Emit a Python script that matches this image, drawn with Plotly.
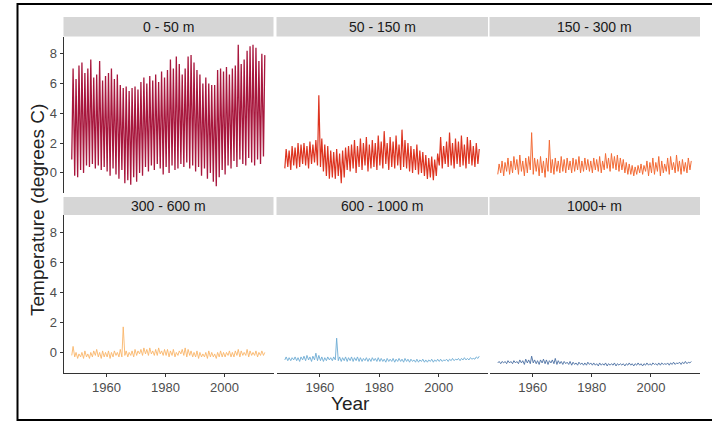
import plotly.graph_objects as go

W, H = 712, 422

# ---------------- data ----------------
years = list(range(1948, 2014))
panels = ["0 - 50 m", "50 - 150 m", "150 - 300 m", "300 - 600 m", "600 - 1000 m", "1000+ m"]
colors = ["#a8173d", "#dd3420", "#f26b36", "#f9b56a", "#6dacd4", "#4b6fa3"]

# 0 - 50 m : yearly summer peaks and winter troughs
hi1 = [7.0, 6.3,
       7.2, 7.4, 6.7, 7.0, 7.6, 6.4, 6.6, 7.5, 6.2, 6.5,
       6.7, 7.0, 6.3, 6.6, 5.9, 5.7, 5.8, 5.5, 5.7, 5.8,
       5.6, 6.1, 6.4, 6.0, 6.5, 6.2, 6.6, 6.1, 6.8, 6.4,
       6.9, 7.6, 7.0, 7.8, 7.3, 6.6, 7.0, 7.8, 7.9, 7.4,
       6.9, 6.6, 6.0, 6.4, 6.0, 5.9, 5.9, 6.9, 7.0, 6.8,
       7.1, 6.6, 7.0, 7.2, 8.6, 7.3, 7.6, 8.2, 8.5, 8.6,
       8.4, 7.5, 8.0, 7.9]
lo1 = [0.9, -0.2,
       -0.3, 0.2, 0.0, 0.5, 0.4, 0.6, 0.3, 0.5, 0.2, 0.4,
       0.1, -0.2, 0.3, -0.1, -0.4, 0.2, -0.7, -0.5, -0.8, -0.3,
       -0.6, 0.0, -0.2, 0.4, 0.1, 0.5, 0.2, 0.6, 0.3, -0.1,
       0.4, 0.0, 0.5, 0.2, 0.3, 0.6, 0.4, 0.7, 0.3, 0.5,
       0.1, 0.4, -0.2, 0.3, -0.4, 0.0, -0.6, -0.9, -0.3, 0.2,
       -0.1, 0.5, 0.3, 0.8, 0.4, 0.9, 0.6, 0.5, 1.0, 0.7,
       0.5, 0.9, 0.6, 1.1]

# 50 - 150 m
hi2 = [1.6, 1.5,
       1.8, 1.7, 2.0, 1.9, 2.0, 1.8, 2.1, 1.9, 2.2, 5.2,
       2.3, 1.9, 1.8, 1.5, 1.4, 1.6, 1.3, 1.5, 1.7, 1.8,
       1.9, 2.2, 1.8, 2.3, 2.0, 2.4, 1.9, 2.2, 2.0, 2.5,
       2.1, 2.8, 2.0, 2.4, 2.1, 2.5, 1.9, 2.9, 2.2, 2.0,
       1.8, 1.6, 1.9, 1.5, 1.4, 1.2, 1.0, 1.1, 0.9, 1.3,
       2.4, 1.8, 2.1, 2.7, 2.0, 2.3, 2.1, 2.5, 1.9, 2.4,
       2.2, 1.8, 2.0, 1.6]
lo2 = [0.3, 0.4,
       0.2, 0.5, 0.3, 0.4, 0.6, 0.5, 0.3, 0.6, 0.7, 0.5,
       0.4, 0.1, -0.2, -0.4, -0.3, -0.4, -0.2, -0.7, -0.3, 0.2,
       0.1, 0.3, 0.0, 0.4, 0.2, 0.5, 0.1, 0.3, 0.4, 0.2,
       0.5, 0.3, 0.6, 0.2, 0.4, 0.3, 0.5, 0.2, 0.4, 0.3,
       0.1, 0.0, 0.2, -0.1, 0.0, -0.2, -0.4, -0.3, -0.5, -0.2,
       0.5, 0.3, 0.6, 0.4, 0.5, 0.3, 0.6, 0.4, 0.5, 0.3,
       0.6, 0.5, 0.4, 0.6]

# 150 - 300 m
hi3 = [0.6, 0.8,
       0.7, 1.0, 0.8, 1.1, 0.9, 1.2, 0.8, 1.0, 1.1, 2.7,
       1.0, 0.9, 1.1, 0.8, 1.0, 2.2, 0.9, 1.0, 0.8, 1.1,
       0.9, 1.0, 0.8, 1.0, 0.9, 1.1, 0.8, 1.0, 0.9, 0.8,
       1.0, 0.9, 1.1, 0.8, 1.3, 1.0, 1.3, 1.1, 1.2, 1.0,
       0.9, 0.7, 0.6, 0.5, 0.4, 0.5, 0.6, 0.5, 0.8, 0.7,
       1.0, 0.7, 1.1, 0.8, 0.6, 1.0, 1.1, 0.7, 1.2, 0.8,
       0.9, 0.7, 1.0, 0.8]
lo3 = [-0.1, 0.0,
       -0.2, 0.1, -0.1, 0.0, 0.2, -0.1, 0.1, -0.2, 0.0, 0.2,
       -0.1, 0.1, -0.2, 0.0, -0.3, 0.1, 0.0, -0.1, 0.1, 0.0,
       0.1, 0.0, 0.2, 0.0, 0.1, 0.2, 0.0, 0.1, 0.2, 0.1,
       0.0, 0.2, 0.1, 0.0, 0.2, 0.3, 0.1, 0.3, 0.2, 0.1,
       0.2, 0.0, -0.1, -0.1, -0.2, -0.1, 0.0, -0.1, 0.1, -0.2,
       0.0, -0.1, 0.1, -0.2, 0.0, 0.1, -0.1, 0.2, 0.0, 0.1,
       -0.1, 0.1, 0.0, 0.2]

# 300 - 600 m
hi4 = [0.4, 0.0,
       -0.1, 0.0, 0.1, -0.1, 0.0, 0.1, 0.2, 0.0, 0.1, 0.0,
       0.1, 0.0, 0.1, 0.0, 0.2, 1.7, 0.1, 0.0, 0.1, 0.2,
       0.1, 0.2, 0.3, 0.2, 0.3, 0.1, 0.2, 0.3, 0.1, 0.2,
       0.2, 0.1, 0.2, 0.0, 0.1, 0.2, 0.3, 0.2, 0.1, 0.0,
       0.1, 0.0, -0.1, 0.0, 0.1, 0.0, -0.1, 0.0, 0.1, 0.0,
       0.0, 0.1, 0.0, 0.1, 0.2, 0.1, 0.0, 0.2, 0.1, 0.0,
       0.1, 0.0, 0.1, 0.0]
lo4 = [-0.2, -0.3,
       -0.4, -0.3, -0.4, -0.3, -0.4, -0.3, -0.2, -0.3, -0.4, -0.3,
       -0.3, -0.4, -0.3, -0.2, -0.3, -0.3, -0.2, -0.3, -0.2, -0.3,
       -0.2, -0.1, -0.2, -0.1, -0.2, -0.1, -0.2, -0.2, -0.1, -0.2,
       -0.2, -0.3, -0.2, -0.3, -0.2, -0.1, -0.2, -0.3, -0.2, -0.3,
       -0.3, -0.4, -0.3, -0.3, -0.4, -0.3, -0.3, -0.4, -0.3, -0.3,
       -0.3, -0.2, -0.3, -0.3, -0.2, -0.3, -0.2, -0.2, -0.3, -0.2,
       -0.2, -0.3, -0.2, -0.2]

# 600 - 1000 m
hi5 = [-0.3, -0.35,
       -0.35, -0.3, -0.35, -0.3, -0.25, -0.2, -0.3, -0.25, -0.05, -0.2,
       -0.3, -0.35, -0.3, -0.35, -0.3, 0.95, -0.3, -0.35, -0.3, -0.35,
       -0.3, -0.35, -0.3, -0.35, -0.4, -0.35, -0.4, -0.35, -0.4, -0.35,
       -0.4, -0.45, -0.4, -0.45, -0.4, -0.45, -0.4, -0.45, -0.4, -0.45,
       -0.45, -0.5, -0.45, -0.5, -0.45, -0.5, -0.5, -0.45, -0.5, -0.45,
       -0.45, -0.5, -0.45, -0.45, -0.4, -0.45, -0.4, -0.4, -0.35, -0.4,
       -0.35, -0.4, -0.3, -0.25]
lo5 = [-0.5, -0.55,
       -0.55, -0.5, -0.55, -0.6, -0.5, -0.55, -0.5, -0.6, -0.5, -0.55,
       -0.55, -0.6, -0.55, -0.5, -0.55, -0.5, -0.55, -0.6, -0.55, -0.6,
       -0.55, -0.6, -0.55, -0.6, -0.6, -0.55, -0.6, -0.6, -0.55, -0.6,
       -0.6, -0.6, -0.65, -0.6, -0.6, -0.65, -0.6, -0.6, -0.65, -0.6,
       -0.65, -0.6, -0.65, -0.65, -0.6, -0.65, -0.65, -0.6, -0.65, -0.6,
       -0.6, -0.6, -0.55, -0.6, -0.55, -0.55, -0.5, -0.55, -0.5, -0.5,
       -0.5, -0.45, -0.45, -0.4]

# 1000+ m
hi6 = [-0.6, -0.6,
       -0.6, -0.55, -0.6, -0.55, -0.6, -0.5, -0.55, -0.45, -0.5, -0.25,
       -0.5, -0.55, -0.5, -0.45, -0.5, -0.55, -0.5, -0.4, -0.55, -0.6,
       -0.6, -0.65, -0.6, -0.65, -0.7, -0.65, -0.7, -0.7, -0.65, -0.7,
       -0.7, -0.75, -0.7, -0.75, -0.7, -0.75, -0.75, -0.7, -0.75, -0.75,
       -0.75, -0.75, -0.7, -0.75, -0.75, -0.7, -0.75, -0.75, -0.7, -0.75,
       -0.7, -0.75, -0.7, -0.7, -0.75, -0.7, -0.7, -0.65, -0.7, -0.65,
       -0.65, -0.6, -0.65, -0.6]
lo6 = [-0.7, -0.75,
       -0.7, -0.75, -0.7, -0.75, -0.7, -0.75, -0.7, -0.8, -0.7, -0.75,
       -0.7, -0.75, -0.8, -0.7, -0.75, -0.8, -0.7, -0.75, -0.8, -0.75,
       -0.8, -0.75, -0.8, -0.85, -0.8, -0.85, -0.8, -0.85, -0.85, -0.8,
       -0.85, -0.85, -0.9, -0.85, -0.85, -0.9, -0.85, -0.85, -0.9, -0.85,
       -0.85, -0.9, -0.85, -0.85, -0.9, -0.85, -0.85, -0.9, -0.85, -0.85,
       -0.85, -0.8, -0.85, -0.85, -0.8, -0.8, -0.85, -0.8, -0.8, -0.75,
       -0.8, -0.75, -0.75, -0.7]

x_ticks = [1960, 1980, 2000]
y_ticks = [0, 2, 4, 6, 8]

his = [hi1, hi2, hi3, hi4, hi5, hi6]
los = [lo1, lo2, lo3, lo4, lo5, lo6]
widths = [1.3, 1.2, 1.0, 0.9, 0.9, 0.9]

# ---------------- layout geometry (px) ----------------
col_px = [(63.5, 273.5), (276.5, 488.0), (489.5, 700.0)]
row_px = [(36.5, 193.0), (215.0, 372.7)]   # plot area top/bottom
strip_px = [(17.0, 36.5), (197.0, 215.0)]


def px_x(v):
    return v / W


def px_y(v):
    return (H - v) / H


fig = go.Figure()
layout = dict(
    width=W, height=H,
    margin=dict(l=0, r=0, t=0, b=0),
    paper_bgcolor="white", plot_bgcolor="white",
    showlegend=False,
    font=dict(family="Liberation Sans, Arial, sans-serif", color="#4d4d4d"),
)
shapes = []
annotations = []

for i in range(6):
    r, c = divmod(i, 3)
    ax = "" if i == 0 else str(i + 1)
    xs, ys = [], []
    for k, yr in enumerate(years):
        xs += [yr + 0.2, yr + 0.65]
        ys += [los[i][k], his[i][k]]
    fig.add_trace(go.Scatter(x=xs, y=ys, mode="lines",
                             line=dict(color=colors[i], width=widths[i]),
                             xaxis="x" + ax, yaxis="y" + ax, hoverinfo="skip"))
    bottom = (r == 1)
    left = (c == 0)
    layout["xaxis" + ax] = dict(
        domain=[px_x(col_px[c][0]), px_x(col_px[c][1])],
        anchor="y" + ax,
        range=[1945.4, 2016.6],
        tickvals=x_ticks if bottom else [],
        showticklabels=bottom,
        ticks="outside" if bottom else "",
        ticklen=3, tickwidth=1, tickcolor="#333333",
        showline=bottom, linecolor="#333333", linewidth=1,
        showgrid=False, zeroline=False,
        tickfont=dict(size=13, color="#4d4d4d"),
    )
    layout["yaxis" + ax] = dict(
        domain=[px_y(row_px[r][1]), px_y(row_px[r][0])],
        anchor="x" + ax,
        range=[-1.35, 9.15],
        tickvals=y_ticks if left else [],
        showticklabels=left,
        ticks="outside" if left else "",
        ticklen=3, tickwidth=1, tickcolor="#333333",
        showline=left, linecolor="#333333", linewidth=1,
        showgrid=False, zeroline=False,
        tickfont=dict(size=13, color="#4d4d4d"),
    )
    # strip
    x0, x1 = col_px[c]
    s0, s1 = strip_px[r]
    shapes.append(dict(type="rect", xref="paper", yref="paper",
                       x0=px_x(x0), x1=px_x(x1), y0=px_y(s1), y1=px_y(s0),
                       fillcolor="#d6d6d6", line=dict(width=0), layer="below"))
    annotations.append(dict(text=panels[i], xref="paper", yref="paper",
                            x=px_x((x0 + x1) / 2), y=px_y((s0 + s1) / 2),
                            xanchor="center", yanchor="middle", showarrow=False,
                            font=dict(size=14, color="#1a1a1a")))

# axis titles
annotations.append(dict(text="Year", xref="paper", yref="paper",
                        x=px_x(350), y=px_y(403), xanchor="center", yanchor="middle",
                        showarrow=False, font=dict(size=19, color="#222222")))
annotations.append(dict(text="Temperature (degrees C)", xref="paper", yref="paper",
                        x=px_x(37), y=px_y(210), xanchor="center", yanchor="middle",
                        textangle=-90, showarrow=False,
                        font=dict(size=19, color="#222222")))

# outer frame
shapes.append(dict(type="rect", xref="paper", yref="paper",
                   x0=px_x(17.5), x1=1.005, y0=px_y(420), y1=px_y(4),
                   line=dict(color="black", width=2), fillcolor="rgba(0,0,0,0)"))

layout["shapes"] = shapes
layout["annotations"] = annotations
fig.update_layout(**layout)

fig.write_html("out.html")
